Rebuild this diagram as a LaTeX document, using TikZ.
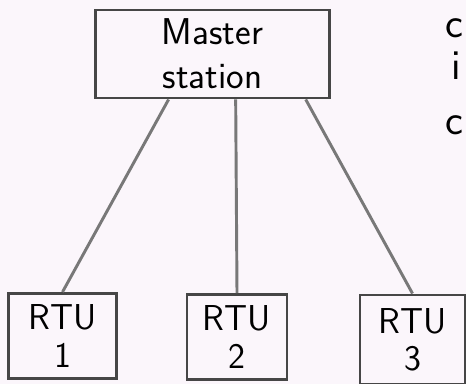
\documentclass[tikz,border=0pt]{standalone}
\usepackage{tikz}
\usetikzlibrary{positioning}

\definecolor{paper}{RGB}{251,246,251}
\definecolor{pencil}{RGB}{70,70,70}
\definecolor{wire}{RGB}{120,120,120}

\tikzset{
  station/.style={draw=pencil, line width=2.2pt, rectangle, inner sep=0pt,
    align=center, font=\sffamily\fontsize{28}{33}\selectfont},
  rtu/.style={draw=pencil, line width=2pt, rectangle, inner sep=0pt,
    align=center, font=\sffamily\fontsize{27}{28}\selectfont},
  link/.style={draw=wire, line width=2.2pt},
  margin/.style={anchor=west, inner sep=0pt, font=\sffamily\fontsize{32}{34}\selectfont}
}

\begin{document}
\begin{tikzpicture}[x=0.75pt,y=0.75pt,yscale=-1,xscale=1]
\useasboundingbox (0,0) rectangle (466,384);
\fill [paper] (0,0) rectangle (466,384);

%Master station on top
\node [station, minimum width=176pt, minimum height=66pt] (master) at (212.5,54) {Master\\station};

%RTU boxes along the bottom
\node [rtu, minimum width=81pt, minimum height=64pt] (rtu1) at (62.5,336) {RTU\\1};
\node [rtu, minimum width=75pt, minimum height=64pt] (rtu2) at (237,337) {RTU\\2};
\node [rtu, minimum width=79pt, minimum height=67pt] (rtu3) at (412.5,339.5) {RTU\\3};

%links from master to each RTU
\draw [link] (master.-134) -- (rtu1.north);
\draw [link] (master.-63) -- (rtu2.north);
\draw [link] (master.-26.7) -- (rtu3.north);

%letters along the right edge
\node [margin] (m1) at (445,28) {c};
\node [margin] (m2) at (451,66) {i};
\node [margin] (m3) at (445,125) {c};

\end{tikzpicture}
\end{document}
